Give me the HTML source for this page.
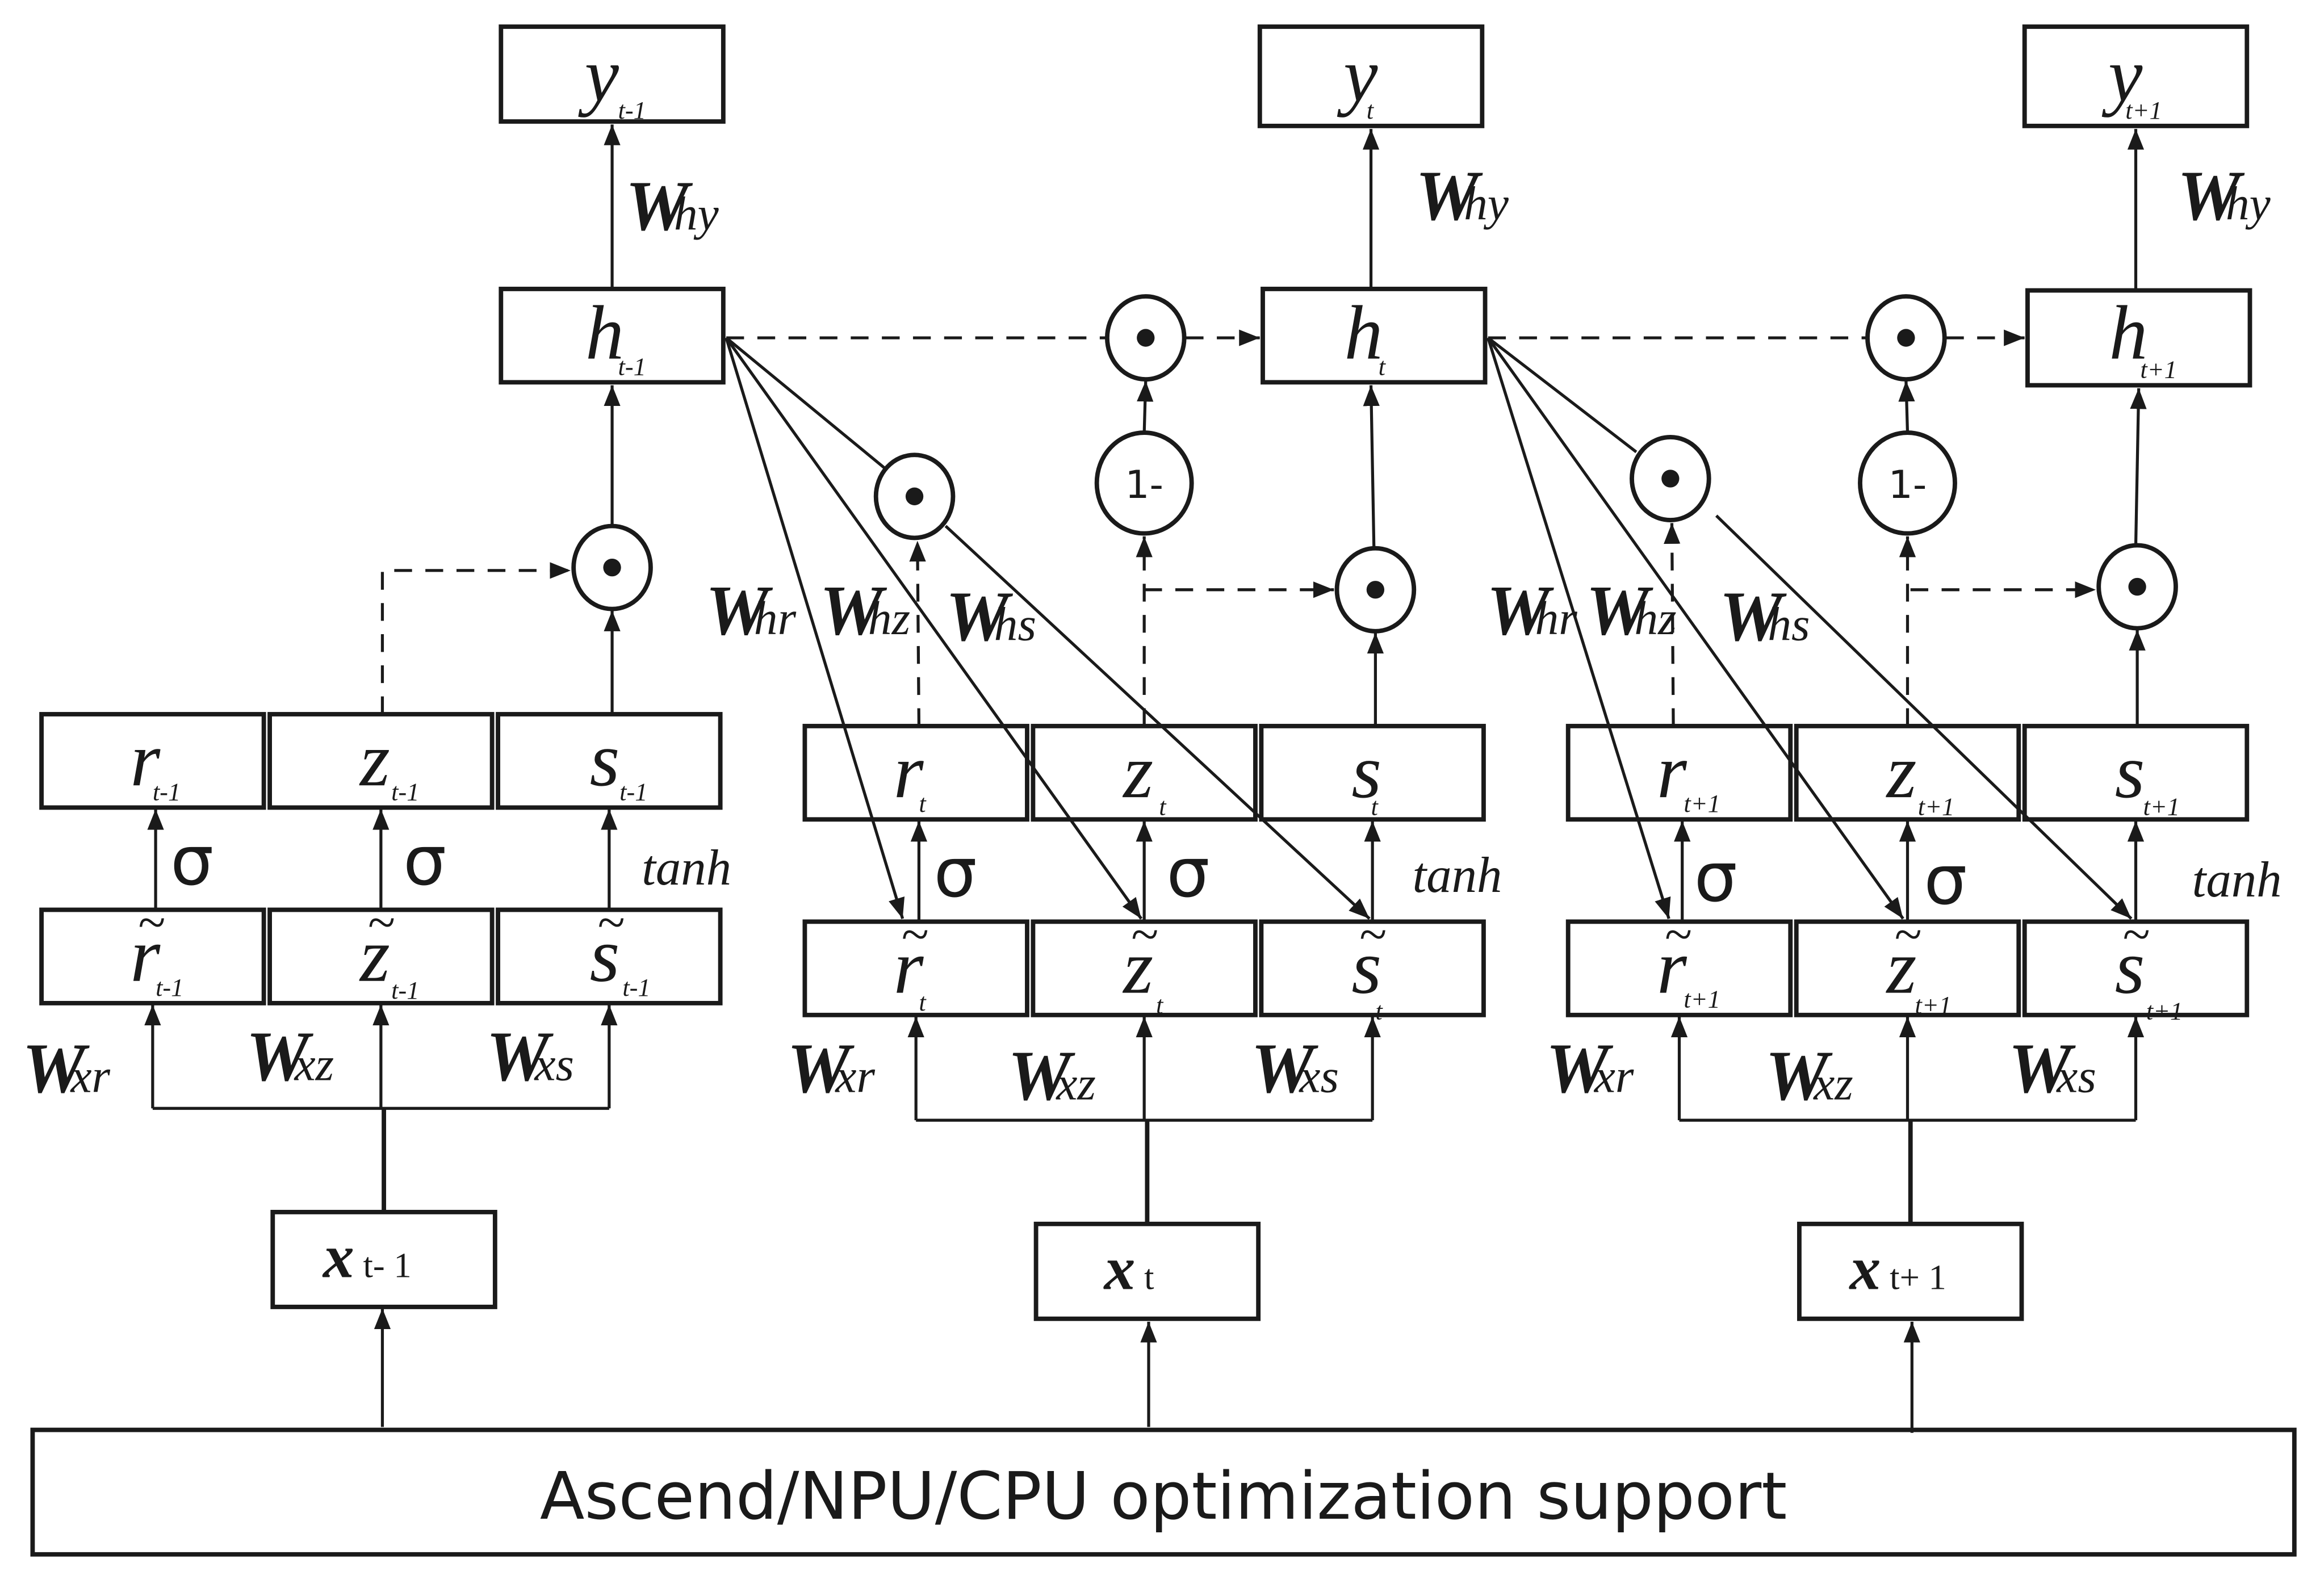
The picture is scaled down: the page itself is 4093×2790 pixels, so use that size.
<!DOCTYPE html>
<html><head><meta charset="utf-8"><style>
html,body{margin:0;padding:0;background:#fff;}
svg{display:block;}
.m{font-family:"Liberation Serif",serif;font-style:italic;font-size:52px;fill:#1a1a1a;text-anchor:middle;}
.s{font-family:"Liberation Serif",serif;font-style:italic;font-size:17px;fill:#1a1a1a;}
.W{font-family:"Liberation Serif",serif;font-style:italic;font-weight:bold;font-size:48px;fill:#1a1a1a;}
.Ws{font-family:"Liberation Serif",serif;font-style:italic;font-size:32px;fill:#1a1a1a;}
.sg{font-family:"DejaVu Sans",sans-serif;font-size:46px;fill:#1a1a1a;}
.th{font-family:"Liberation Serif",serif;font-style:italic;font-size:34px;fill:#1a1a1a;}
</style></head><body>
<svg width="4093" height="2790" viewBox="0 0 1568 1069" preserveAspectRatio="none" xmlns="http://www.w3.org/2000/svg">
<defs>
<marker id="A" viewBox="0 0 10 10" refX="10" refY="5" markerWidth="14" markerHeight="14" orient="auto" markerUnits="userSpaceOnUse"><path d="M0,1L10,5L0,9z" fill="#1a1a1a"/></marker>
<g id="cell" fill="none" stroke="#1a1a1a">
<rect x="0" y="0" width="150" height="63" stroke-width="3"/>
<rect x="154" y="0" width="150" height="63" stroke-width="3"/>
<rect x="308" y="0" width="150" height="63" stroke-width="3"/>
<rect x="0" y="132" width="150" height="63" stroke-width="3"/>
<rect x="154" y="132" width="150" height="63" stroke-width="3"/>
<rect x="308" y="132" width="150" height="63" stroke-width="3"/>
<g stroke-width="2" marker-end="url(#A)">
<line x1="77" y1="132" x2="77" y2="64"/>
<line x1="229" y1="132" x2="229" y2="64"/>
<line x1="383" y1="132" x2="383" y2="64"/>
<line x1="75" y1="266" x2="75" y2="196"/>
<line x1="229" y1="266" x2="229" y2="196"/>
<line x1="383" y1="266" x2="383" y2="196"/>
</g>
<polyline points="75,266 383,266" stroke-width="2"/>
<line x1="231" y1="336" x2="231" y2="266" stroke-width="3"/>
<rect x="156" y="336" width="150" height="64" stroke-width="3"/>
</g>
</defs>

<rect x="22" y="965" width="1526" height="84" fill="none" stroke="#1a1a1a" stroke-width="3"/>
<text x="785" y="1025" text-anchor="middle" style="font-family:'DejaVu Sans','Liberation Sans',sans-serif;font-size:44px;fill:#1a1a1a">Ascend/NPU/CPU optimization support</text>
<g stroke="#1a1a1a" stroke-width="2" marker-end="url(#A)">
<line x1="258" y1="963" x2="258" y2="883"/>
<line x1="775" y1="963" x2="775" y2="892"/>
<line x1="1290" y1="967" x2="1290" y2="892"/>
</g>

<use href="#cell" x="28" y="482"/>
<use href="#cell" x="543" y="490"/>
<use href="#cell" x="1058" y="490"/>

<g fill="none" stroke="#1a1a1a" stroke-width="3">
<rect x="338" y="18" width="150" height="64"/>
<rect x="338" y="195" width="150" height="63"/>
<rect x="850" y="18" width="150" height="67"/>
<rect x="852" y="195" width="150" height="63"/>
<rect x="1366" y="18" width="150" height="67"/>
<rect x="1368" y="196" width="150" height="64"/>
</g>
<g fill="#fff" stroke="#1a1a1a" stroke-width="3">
<ellipse cx="413" cy="383" rx="26" ry="28"/>
<ellipse cx="773" cy="228" rx="26" ry="28"/>
<ellipse cx="617" cy="335" rx="26" ry="28"/>
<ellipse cx="928" cy="398" rx="26" ry="28"/>
<ellipse cx="772" cy="326" rx="32" ry="34"/>
<ellipse cx="1286" cy="228" rx="26" ry="28"/>
<ellipse cx="1127" cy="323" rx="26" ry="28"/>
<ellipse cx="1442" cy="396" rx="26" ry="28"/>
<ellipse cx="1287" cy="326" rx="32" ry="34"/>
</g>
<g fill="#1a1a1a">
<circle cx="413" cy="383" r="6"/><circle cx="773" cy="228" r="6"/><circle cx="617" cy="335" r="6"/><circle cx="928" cy="398" r="6"/>
<circle cx="1286" cy="228" r="6"/><circle cx="1127" cy="323" r="6"/><circle cx="1442" cy="396" r="6"/>
</g>
<g style="font-family:'DejaVu Sans',sans-serif;font-size:26px;fill:#1a1a1a" text-anchor="middle">
<text x="772" y="336">1-</text><text x="1287" y="336">1-</text>
</g>

<g stroke="#1a1a1a" stroke-width="2" fill="none" marker-end="url(#A)">
<line x1="413" y1="195" x2="413" y2="84"/>
<line x1="413" y1="355" x2="413" y2="260"/>
<line x1="413" y1="482" x2="413" y2="412"/>
<line x1="925" y1="195" x2="925" y2="87"/>
<line x1="927" y1="370" x2="925" y2="260"/>
<line x1="928" y1="490" x2="928" y2="427"/>
<line x1="772" y1="292" x2="773" y2="257"/>
<line x1="1441" y1="196" x2="1441" y2="87"/>
<line x1="1441" y1="368" x2="1443" y2="262"/>
<line x1="1442" y1="490" x2="1442" y2="425"/>
<line x1="1287" y1="292" x2="1286" y2="257"/>
<line x1="490" y1="228" x2="609" y2="620"/>
<line x1="490" y1="228" x2="770" y2="620"/>
<line x1="638" y1="355" x2="924" y2="620"/>
<line x1="1004" y1="228" x2="1126" y2="620"/>
<line x1="1004" y1="228" x2="1284" y2="620"/>
<line x1="1158" y1="348" x2="1438" y2="620"/>
</g>
<g stroke="#1a1a1a" stroke-width="2">
<line x1="490" y1="228" x2="597" y2="316"/>
<line x1="1004" y1="228" x2="1104" y2="305"/>
</g>
<g stroke="#1a1a1a" stroke-width="2" fill="none" stroke-dasharray="12,9">
<polyline points="258,482 258,385 385,385" marker-end="url(#A)"/>
<line x1="490" y1="228" x2="746" y2="228"/>
<line x1="800" y1="228" x2="850" y2="228" marker-end="url(#A)"/>
<line x1="772" y1="490" x2="772" y2="362" marker-end="url(#A)"/>
<line x1="772" y1="398" x2="900" y2="398" marker-end="url(#A)"/>
<line x1="620" y1="490" x2="619" y2="365" marker-end="url(#A)"/>
<line x1="1004" y1="228" x2="1259" y2="228"/>
<line x1="1313" y1="228" x2="1366" y2="228" marker-end="url(#A)"/>
<line x1="1287" y1="490" x2="1287" y2="362" marker-end="url(#A)"/>
<line x1="1289" y1="398" x2="1414" y2="398" marker-end="url(#A)"/>
<line x1="1129" y1="490" x2="1128" y2="353" marker-end="url(#A)"/>
</g>

<g class="m">
<text x="406" y="68">y</text><text x="918" y="68">y</text><text x="1434" y="68">y</text>
<text x="408" y="242">h</text><text x="920" y="242">h</text><text x="1436" y="242">h</text>
<text x="98" y="530">r</text><text x="253" y="530">z</text><text x="408" y="530">s</text>
<text x="613" y="538">r</text><text x="768" y="538">z</text><text x="922" y="538">s</text>
<text x="1128" y="538">r</text><text x="1283" y="538">z</text><text x="1437" y="538">s</text>
<text x="98" y="662">r</text><text x="253" y="662">z</text><text x="408" y="662">s</text>
<text x="613" y="670">r</text><text x="768" y="670">z</text><text x="922" y="670">s</text>
<text x="1128" y="670">r</text><text x="1283" y="670">z</text><text x="1437" y="670">s</text>
</g>
<g class="m" style="font-size:34px">
<text x="102" y="634">~</text><text x="257" y="634">~</text><text x="412" y="634">~</text>
<text x="617" y="642">~</text><text x="772" y="642">~</text><text x="926" y="642">~</text>
<text x="1132" y="642">~</text><text x="1287" y="642">~</text><text x="1441" y="642">~</text>
</g>
<g class="s">
<text x="417" y="80">t-1</text><text x="922" y="80">t</text><text x="1434" y="80">t+1</text>
<text x="417" y="253">t-1</text><text x="930" y="253">t</text><text x="1444" y="255">t+1</text>
<text x="103" y="540">t-1</text><text x="264" y="540">t-1</text><text x="418" y="540">t-1</text>
<text x="620" y="548">t</text><text x="782" y="550">t</text><text x="925" y="550">t</text>
<text x="1136" y="548">t+1</text><text x="1294" y="550">t+1</text><text x="1446" y="550">t+1</text>
<text x="105" y="672">t-1</text><text x="264" y="674">t-1</text><text x="420" y="672">t-1</text>
<text x="620" y="682">t</text><text x="780" y="684">t</text><text x="928" y="688">t</text>
<text x="1136" y="680">t+1</text><text x="1292" y="684">t+1</text><text x="1448" y="688">t+1</text>
</g>

<g class="sg"><text x="115" y="597">σ</text><text x="272" y="597">σ</text>
<text x="630" y="605">σ</text><text x="787" y="605">σ</text>
<text x="1143" y="608">σ</text><text x="1298" y="610">σ</text></g>
<g class="th"><text x="433" y="597">tanh</text><text x="953" y="602">tanh</text><text x="1479" y="605">tanh</text></g>

<g>
<text x="422" y="155"><tspan class="W">W</tspan><tspan class="Ws" dx="-10">hy</tspan></text>
<text x="955" y="148"><tspan class="W">W</tspan><tspan class="Ws" dx="-10">hy</tspan></text>
<text x="1469" y="148"><tspan class="W">W</tspan><tspan class="Ws" dx="-10">hy</tspan></text>

<text x="476" y="428"><tspan class="W">W</tspan><tspan class="Ws" dx="-10">hr</tspan></text>
<text x="553" y="428"><tspan class="W">W</tspan><tspan class="Ws" dx="-10">hz</tspan></text>
<text x="638" y="432"><tspan class="W">W</tspan><tspan class="Ws" dx="-10">hs</tspan></text>
<text x="1003" y="428"><tspan class="W">W</tspan><tspan class="Ws" dx="-10">hr</tspan></text>
<text x="1070" y="428"><tspan class="W">W</tspan><tspan class="Ws" dx="-10">hz</tspan></text>
<text x="1160" y="432"><tspan class="W">W</tspan><tspan class="Ws" dx="-10">hs</tspan></text>

<text x="15" y="737"><tspan class="W">W</tspan><tspan class="Ws" dx="-10">xr</tspan></text>
<text x="166" y="729"><tspan class="W">W</tspan><tspan class="Ws" dx="-10">xz</tspan></text>
<text x="328" y="729"><tspan class="W">W</tspan><tspan class="Ws" dx="-10">xs</tspan></text>
<text x="531" y="737"><tspan class="W">W</tspan><tspan class="Ws" dx="-10">xr</tspan></text>
<text x="680" y="742"><tspan class="W">W</tspan><tspan class="Ws" dx="-10">xz</tspan></text>
<text x="844" y="737"><tspan class="W">W</tspan><tspan class="Ws" dx="-10">xs</tspan></text>
<text x="1043" y="737"><tspan class="W">W</tspan><tspan class="Ws" dx="-10">xr</tspan></text>
<text x="1191" y="742"><tspan class="W">W</tspan><tspan class="Ws" dx="-10">xz</tspan></text>
<text x="1355" y="737"><tspan class="W">W</tspan><tspan class="Ws" dx="-10">xs</tspan></text>
</g>

<g>
<text x="218" y="862"><tspan class="W" style="font-size:42px">x</tspan><tspan style="font-family:'Liberation Serif',serif;font-size:24px;fill:#1a1a1a" dx="6">t- 1</tspan></text>
<text x="745" y="870"><tspan class="W" style="font-size:42px">x</tspan><tspan style="font-family:'Liberation Serif',serif;font-size:24px;fill:#1a1a1a" dx="6">t</tspan></text>
<text x="1248" y="870"><tspan class="W" style="font-size:42px">x</tspan><tspan style="font-family:'Liberation Serif',serif;font-size:24px;fill:#1a1a1a" dx="6">t+ 1</tspan></text>
</g>
</svg>
</body></html>
